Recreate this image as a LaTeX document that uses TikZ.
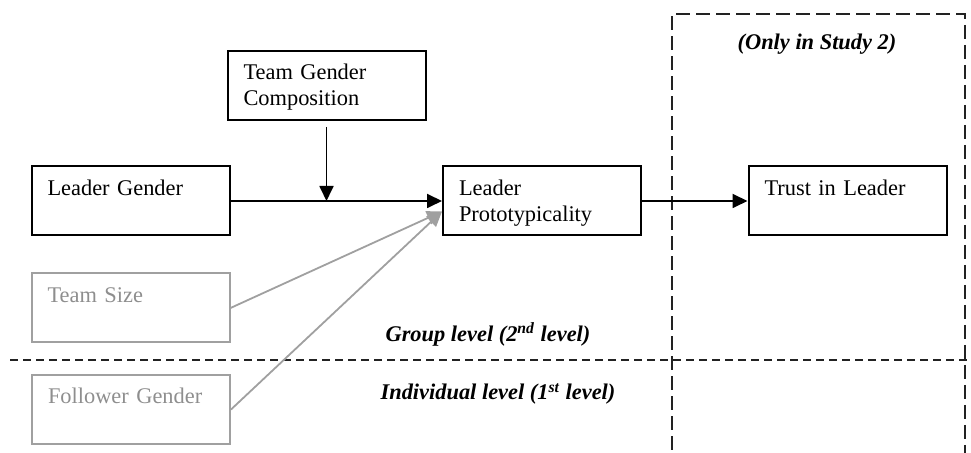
\documentclass[tikz,border=0pt]{standalone}
\usepackage{fontspec}
\setmainfont{Liberation Serif}
\usetikzlibrary{arrows.meta,positioning,calc}
\definecolor{faded}{HTML}{A0A0A0}
\definecolor{fadedtext}{HTML}{8E8E8E}
\definecolor{frameline}{HTML}{222222}

\begin{document}
\begin{tikzpicture}[
  x=0.5pt,y=-0.5pt,
  font=\fontsize{11.2}{13}\selectfont,
  box/.style={draw,line width=1pt,inner sep=0pt,inner xsep=8pt,text width=83pt,
    text height=14.5pt,text depth=20pt,align=left},
  greybox/.style={box,draw=faded,text=fadedtext},
  arrow/.style={-{Triangle[length=7.5pt,width=7pt]},line width=0.9pt},
  greyarrow/.style={arrow,draw=faded,-{Triangle[length=7.5pt,width=7pt,fill=faded]}},
  divider/.style={line width=1pt,draw=frameline,dash pattern=on 4pt off 2.5pt},
  level/.style={font=\fontsize{11.2}{13}\selectfont\bfseries\itshape}
]
\useasboundingbox (0,0) rectangle (971,453);
\clip (0,0) rectangle (971,453);
\node[box] (lg) at (130.5,201) {Leader Gender};
\node[box] (tgc) at (326.5,85.5) {Team Gender\\Composition};
\node[greybox] (ts) at (130.5,308) {Team Size};
\node[greybox] (fg) at (131,409.5) {Follower Gender};
\node[box] (lp) at (542,201) {Leader\\Prototypicality};
\node[box] (trust) at (847.5,201) {Trust in Leader};
% study 2 frame and level divider
\draw[divider] (10,360) -- (971,360);
\draw[divider,dash pattern=on 7pt off 3pt] (672,470) -- (672,14) -- (965,14) -- (965,470);
\node[level] (study) at (817,44) {(Only in Study 2)};
\node[level] (group) at (488,334) {Group level (2\textsuperscript{nd} level)};
\node[level] (indiv) at (498,394) {Individual level (1\textsuperscript{st} level)};
% paths
\coordinate (mod) at (tgc.south |- lg.east);
\draw[greyarrow] (ts.east) -- (lp.186);
\draw[greyarrow] (fg.east) -- (lp.186);
\draw[arrow] (lg.east) -- (lp.west);
\draw[arrow,shorten <=3pt] (tgc.south) -- (mod);
\draw[arrow] (lp.east) -- (trust.west);
\end{tikzpicture}
\end{document}
